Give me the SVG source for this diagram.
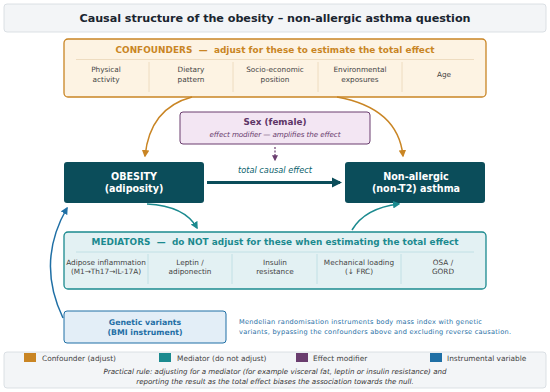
<svg xmlns="http://www.w3.org/2000/svg" width="550" height="392" viewBox="0 0 550 392">
<style>
text{font-family:"DejaVu Sans",sans-serif;text-anchor:middle;white-space:pre}
.title{font-size:11.2px;font-weight:bold;fill:#1a2530}
.hdr{font-size:8.9px;font-weight:bold}
.cell{font-size:7.3px;fill:#444}
.node{font-size:9.6px;font-weight:bold;fill:#fff}
.lg{font-size:7.4px;fill:#444;text-anchor:start}
.rule{font-size:7.1px;fill:#333;font-style:italic}
.mr{font-size:6.6px;fill:#1f6fa5;text-anchor:start}
</style>
<defs>
<marker id="aOr" viewBox="0 0 10 10" refX="8" refY="5" markerWidth="5" markerHeight="5" orient="auto"><path d="M0,0 L10,5 L0,10 z" fill="#c98524"/></marker>
<marker id="aTeal" viewBox="0 0 10 10" refX="8" refY="5" markerWidth="5" markerHeight="5" orient="auto"><path d="M0,0 L10,5 L0,10 z" fill="#1b8a8f"/></marker>
<marker id="aDark" viewBox="0 0 10 10" refX="8" refY="5" markerWidth="3.5" markerHeight="3.5" orient="auto"><path d="M0,0 L10,5 L0,10 z" fill="#0b4d5a"/></marker>
<marker id="aPur" viewBox="0 0 10 10" refX="8" refY="5" markerWidth="5" markerHeight="5" orient="auto"><path d="M0,0 L10,5 L0,10 z" fill="#6a3d6e"/></marker>
<marker id="aBlue" viewBox="0 0 10 10" refX="8" refY="5" markerWidth="5" markerHeight="5" orient="auto"><path d="M0,0 L10,5 L0,10 z" fill="#1f6fa5"/></marker>
</defs>
<rect width="550" height="392" fill="#fff"/>
<g id="title">
<rect x="4" y="4" width="542" height="28" rx="3" fill="#f3f5f7" stroke="#d3d9de" stroke-width="0.8"/>
<text class="title" x="275" y="22" textLength="391">Causal structure of the obesity – non-allergic asthma question</text>
</g>
<g id="confounders">
<rect x="64" y="39" width="422" height="58" rx="4" fill="#fdf3e3" stroke="#c98524" stroke-width="1.3"/>
<text class="hdr" x="275" y="52.5" fill="#c98524" textLength="319">CONFOUNDERS  —  adjust for these to estimate the total effect</text>
<line x1="76" y1="59.5" x2="474" y2="59.5" stroke="#ead6b8" stroke-width="0.8"/>
<g stroke="#ead6b8" stroke-width="0.8"><line x1="149" y1="62" x2="149" y2="92"/><line x1="233" y1="62" x2="233" y2="92"/><line x1="318" y1="62" x2="318" y2="92"/><line x1="402" y1="62" x2="402" y2="92"/></g>
<text class="cell" x="106" y="71.5">Physical</text><text class="cell" x="106" y="81.5">activity</text>
<text class="cell" x="191" y="71.5">Dietary</text><text class="cell" x="191" y="81.5">pattern</text>
<text class="cell" x="275" y="71.5">Socio-economic</text><text class="cell" x="275" y="81.5">position</text>
<text class="cell" x="360" y="71.5">Environmental</text><text class="cell" x="360" y="81.5">exposures</text>
<text class="cell" x="444" y="76.5">Age</text>
</g>
<g id="sex">
<rect x="180" y="112" width="190" height="32" rx="3" fill="#f3e6f3" stroke="#6a3d6e" stroke-width="1"/>
<text x="275" y="125" font-size="8.8px" font-weight="bold" fill="#5e3566">Sex (female)</text>
<text x="275" y="136.5" font-size="7.2px" font-style="italic" fill="#6a3d6e" textLength="131">effect modifier — amplifies the effect</text>
</g>
<g id="obesity">
<rect x="64" y="162" width="140" height="41" rx="3" fill="#0b4d5a"/>
<text class="node" x="134" y="179.5">OBESITY</text>
<text class="node" x="134" y="191.5">(adiposity)</text>
</g>
<g id="asthma">
<rect x="345" y="162" width="140" height="41" rx="3" fill="#0b4d5a"/>
<text class="node" x="416" y="179.5">Non-allergic</text>
<text class="node" x="416" y="191.5">(non-T2) asthma</text>
</g>
<g id="mediators">
<rect x="64" y="232" width="422" height="57" rx="4" fill="#e3f1f3" stroke="#1b8a8f" stroke-width="1.3"/>
<text class="hdr" x="275" y="244.5" fill="#1b8a8f" textLength="367">MEDIATORS  —  do NOT adjust for these when estimating the total effect</text>
<line x1="76" y1="252" x2="474" y2="252" stroke="#b9dde1" stroke-width="0.8"/>
<g stroke="#b9dde1" stroke-width="0.8"><line x1="148" y1="254" x2="148" y2="284"/><line x1="232" y1="254" x2="232" y2="284"/><line x1="317" y1="254" x2="317" y2="284"/><line x1="401" y1="254" x2="401" y2="284"/></g>
<text class="cell" x="106" y="264.5">Adipose inflammation</text><text class="cell" x="106" y="274">(M1→Th17→IL-17A)</text>
<text class="cell" x="190" y="264.5">Leptin /</text><text class="cell" x="190" y="274">adiponectin</text>
<text class="cell" x="275" y="264.5">Insulin</text><text class="cell" x="275" y="274">resistance</text>
<text class="cell" x="359" y="264.5">Mechanical loading</text><text class="cell" x="359" y="274">(↓ FRC)</text>
<text class="cell" x="443" y="264.5">OSA /</text><text class="cell" x="443" y="274">GORD</text>
</g>
<g id="genetic">
<rect x="64" y="311" width="162" height="32" rx="3" fill="#e3eef7" stroke="#1f6fa5" stroke-width="1"/>
<text x="145" y="325" font-size="7.8px" font-weight="bold" fill="#1f6fa5">Genetic variants</text>
<text x="145" y="335" font-size="7.8px" font-weight="bold" fill="#1f6fa5">(BMI instrument)</text>
</g>
<g id="note">
<text class="mr" x="239" y="323.5" textLength="243">Mendelian randomisation instruments body mass index with genetic</text>
<text class="mr" x="239" y="333.5" textLength="272">variants, bypassing the confounders above and excluding reverse causation.</text>
</g>
<g id="connectors" fill="none">
<path d="M192,97 Q150,108 145,156" stroke="#c98524" stroke-width="1.5" marker-end="url(#aOr)"/>
<path d="M337,97 Q398,108 403,156" stroke="#c98524" stroke-width="1.5" marker-end="url(#aOr)"/>
<line x1="275" y1="147" x2="275" y2="160" stroke="#6a3d6e" stroke-width="1.2" stroke-dasharray="2,1.5" marker-end="url(#aPur)"/>
<line x1="207" y1="182.5" x2="340" y2="182.5" stroke="#0b4d5a" stroke-width="3" marker-end="url(#aDark)"/>
<path d="M147,204 Q185,206 197,228" stroke="#1b8a8f" stroke-width="1.5" marker-end="url(#aTeal)"/>
<path d="M352,230 Q365,208 399,204" stroke="#1b8a8f" stroke-width="1.5" marker-end="url(#aTeal)"/>
<path d="M63,318 Q36,262 67,208" stroke="#1f6fa5" stroke-width="1.5" marker-end="url(#aBlue)"/>
</g>
<text x="275" y="173" font-size="8.2px" font-style="italic" fill="#0b5f6c">total causal effect</text>
<g id="legend">
<rect x="4" y="352" width="542" height="36" rx="3" fill="#f3f5f7" stroke="#d3d9de" stroke-width="0.8"/>
<rect x="24" y="353" width="12" height="9" fill="#c98524"/><text class="lg" x="42" y="360.5">Confounder (adjust)</text>
<rect x="159" y="353" width="12" height="9" fill="#1b8a8f"/><text class="lg" x="177" y="360.5">Mediator (do not adjust)</text>
<rect x="296" y="353" width="12" height="9" fill="#6a3d6e"/><text class="lg" x="313" y="360.5">Effect modifier</text>
<rect x="430" y="353" width="12" height="9" fill="#1f6fa5"/><text class="lg" x="447" y="360.5">Instrumental variable</text>
<text class="rule" x="275" y="374" textLength="343">Practical rule: adjusting for a mediator (for example visceral fat, leptin or insulin resistance) and</text>
<text class="rule" x="275" y="384">reporting the result as the total effect biases the association towards the null.</text>
</g>
</svg>
